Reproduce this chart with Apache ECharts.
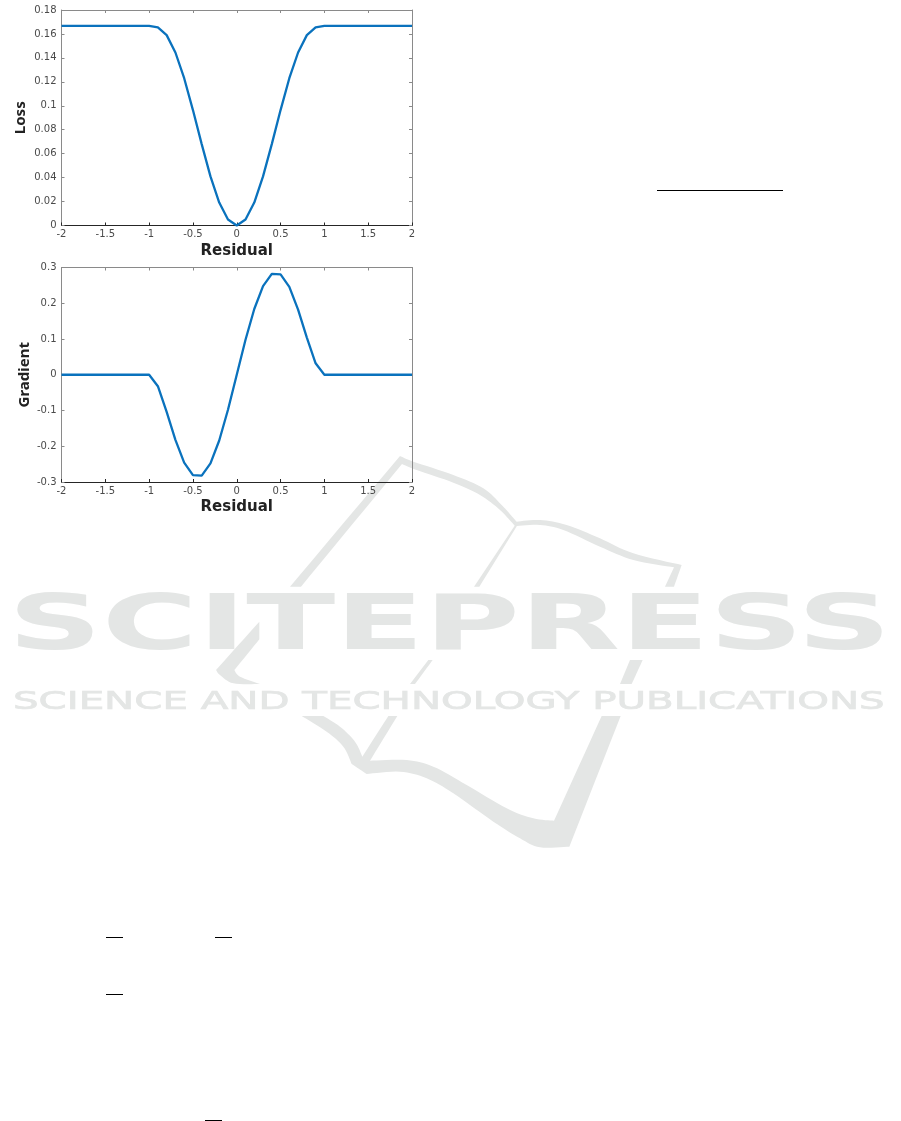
<!DOCTYPE html>
<html>
<head>
<meta charset="utf-8">
<style>html,body{margin:0;padding:0;background:#fff}#c{width:901px;height:1121px}</style>
<script src="https://cdn.jsdelivr.net/npm/echarts@6/dist/echarts.min.js"></script>
</head>
<body>
<div id="c"></div>
<script>
const residual = [-2,-1.9,-1.8,-1.7,-1.6,-1.5,-1.4,-1.3,-1.2,-1.1,-1,-0.9,-0.8,-0.7,-0.6,-0.5,-0.4,-0.3,-0.2,-0.1,0,0.1,0.2,0.3,0.4,0.5,0.6,0.7,0.8,0.9,1,1.1,1.2,1.3,1.4,1.5,1.6,1.7,1.8,1.9,2];
const lossValues = [0.1667,0.1667,0.1667,0.1667,0.1667,0.1667,0.1667,0.1667,0.1667,0.1667,0.1667,0.1655,0.159,0.1445,0.123,0.0964,0.068,0.041,0.0192,0.005,0,0.005,0.0192,0.041,0.068,0.0964,0.123,0.1445,0.159,0.1655,0.1667,0.1667,0.1667,0.1667,0.1667,0.1667,0.1667,0.1667,0.1667,0.1667,0.1667];
const gradientValues = [0,0,0,0,0,0,0,0,0,0,0,-0.032,-0.104,-0.182,-0.246,-0.281,-0.282,-0.248,-0.184,-0.098,0,0.098,0.184,0.248,0.282,0.281,0.246,0.182,0.104,0.032,0,0,0,0,0,0,0,0,0,0,0];
const xTitle = 'Residual', lossTitle = 'Loss', gradientTitle = 'Gradient';
const pressTitle = 'SCITEPRESS', pressSubtitle = 'SCIENCE AND TECHNOLOGY PUBLICATIONS';

const GREY = '#8a8a8a', DARK = '#262626', MARK = '#e4e6e5';
const tickFont = {fontFamily:'DejaVu Sans', fontSize:10, color:'#4a4a4a'};

function xAxes(g){
  const base = {type:'value', gridIndex:g, min:-2, max:2, interval:0.5, splitLine:{show:false}};
  return [
    {...base, position:'bottom',
      axisLine:{show:true, onZero:false, lineStyle:{color:DARK, width:1}},
      axisTick:{inside:true, length:3, lineStyle:{color:DARK}},
      axisLabel:{...tickFont, margin:4, showMinLabel:true, showMaxLabel:true, hideOverlap:false},
      name:xTitle, nameLocation:'middle', nameGap:18,
      nameTextStyle:{fontFamily:'DejaVu Sans', fontWeight:'bold', fontSize:15, color:'#222'}},
    {...base, position:'top',
      axisLine:{show:true, onZero:false, lineStyle:{color:GREY, width:1}},
      axisTick:{inside:true, length:3, lineStyle:{color:GREY}},
      axisLabel:{show:false}}
  ];
}
function yAxes(g, min, max, step, title, gap){
  const base = {type:'value', gridIndex:g, min, max, interval:step, splitLine:{show:false}};
  return [
    {...base, position:'left',
      axisLine:{show:true, onZero:false, lineStyle:{color:GREY, width:1}},
      axisTick:{inside:true, length:3, lineStyle:{color:GREY}},
      axisLabel:{...tickFont, margin:5, showMinLabel:true, showMaxLabel:true, hideOverlap:false},
      name:title, nameLocation:'middle', nameGap:gap,
      nameTextStyle:{fontFamily:'Noto Sans', fontWeight:'bold', fontSize:15, color:'#222'}},
    {...base, position:'right',
      axisLine:{show:true, onZero:false, lineStyle:{color:GREY, width:1}},
      axisTick:{inside:true, length:3, lineStyle:{color:GREY}},
      axisLabel:{show:false}}
  ];
}
const pairs = vals => residual.map((x,i)=>[x, vals[i]]);
const lineSeries = (g, vals) => ({
  type:'line', xAxisIndex:g*2, yAxisIndex:g*2, data:pairs(vals), showSymbol:false, symbol:'none',
  smooth:false, clip:false, lineStyle:{color:'#0a72bd', width:2.3}, animation:false
});

// Each outline is a list of runs; every run is a Catmull-Rom curve through its points.
function sampleRun(run){
  const out = [];
  for(let i=0;i<run.length-1;i++){
    const p0=run[Math.max(i-1,0)], p1=run[i], p2=run[i+1], p3=run[Math.min(i+2,run.length-1)];
    for(let k=0;k<8;k++){
      const t=k/8, t2=t*t, t3=t2*t;
      out.push([0,1].map(d=>0.5*((2*p1[d])+(-p0[d]+p2[d])*t+(2*p0[d]-5*p1[d]+4*p2[d]-p3[d])*t2+(-p0[d]+3*p1[d]-3*p2[d]+p3[d])*t3)));
    }
  }
  out.push(run[run.length-1]);
  return out;
}
const outline = (ox, oy, runs) => runs.flatMap(sampleRun).map(p=>[ox+p[0]/3, oy+p[1]/3]);
const poly = pts => ({type:'polygon', silent:true, z:-10, shape:{points:pts}, style:{fill:MARK}});
const markShapes = [
  outline(200,450,[[[270,410],[600,18]],[[600,18],[640,35],[760,75],[850,115],[905,165],[950,215]],[[950,215],[1020,210],[1100,225],[1200,265],[1300,310],[1445,345]],[[1445,345],[1422,410]],[[1422,410],[1395,410]],[[1395,410],[1422,352]],[[1422,352],[1300,330],[1200,290],[1090,240],[1020,225],[945,228]],[[945,228],[900,180],[840,135],[760,98],[650,60],[606,42]],[[606,42],[303,410]]]),
  outline(200,450,[[[945,226],[952,226]],[[952,226],[838,410]],[[838,410],[822,410]]]),
  outline(0,580,[[[778,125],[648,270]],[[648,270],[660,285],[700,310],[780,312]],[[780,312],[720,290],[703,270]],[[703,270],[778,178]]]),
  outline(0,580,[[[1330,175],[1345,175]],[[1345,175],[1315,210]]]),
  outline(0,580,[[[1285,240],[1298,240]],[[1298,240],[1245,312]],[[1245,312],[1230,312]]]),
  outline(450,580,[[[540,240],[578,240]],[[578,240],[545,312]],[[545,312],[510,312]]]),
  outline(200,710,[[[305,18],[380,65],[430,110],[455,162]],[[455,162],[500,192]],[[500,192],[600,185],[680,205],[760,250],[880,335],[960,385],[1020,412],[1108,410]],[[1108,410],[1262,18]],[[1262,18],[1205,18]],[[1205,18],[1062,332]],[[1062,332],[1000,325],[920,295],[800,225],[700,170],[620,150],[510,152]],[[510,152],[592,18]],[[592,18],[565,18]],[[565,18],[487,140]],[[487,140],[465,95],[420,50],[370,18]]])
];
const stretched = (text, x, y, size, weight, sx, thicken) => ({
  type:'text', silent:true, z:-10, x, y, scaleX:sx,
  style:{text, fontFamily:'DejaVu Sans', fontWeight:weight, fontSize:size, fill:MARK,
         stroke:thicken?MARK:null, lineWidth:thicken||0, textVerticalAlign:'bottom'}
});
const rule = (x,y,w) => ({type:'rect', silent:true, shape:{x,y,width:w,height:1}, style:{fill:'#000'}});

const option = {
  backgroundColor:'#fff',
  animation:false,
  grid:[
    {left:61.5, top:10, width:350.5, height:215.5},
    {left:61.5, top:267.5, width:350.5, height:214.5}
  ],
  xAxis:[...xAxes(0), ...xAxes(1)],
  yAxis:[...yAxes(0,0,0.18,0.02,lossTitle,33),...yAxes(1,-0.3,0.3,0.1,gradientTitle,29.5)],
  series:[lineSeries(0,lossValues), lineSeries(1,gradientValues)],
  graphic:[
    ...markShapes.map(poly),
    stretched(pressTitle, 8, 667, 76, 'bold', 1.716),
    stretched(pressSubtitle, 13, 714.5, 24, 'normal', 1.68, 0.7),
    rule(657,190,126), rule(106,937,17), rule(215,937,17), rule(106,994,17), rule(205,1120,17)
  ]
};
const chart = echarts.init(document.getElementById('c'), null, {renderer:'canvas'});
chart.setOption(option);
</script>
</body>
</html>
